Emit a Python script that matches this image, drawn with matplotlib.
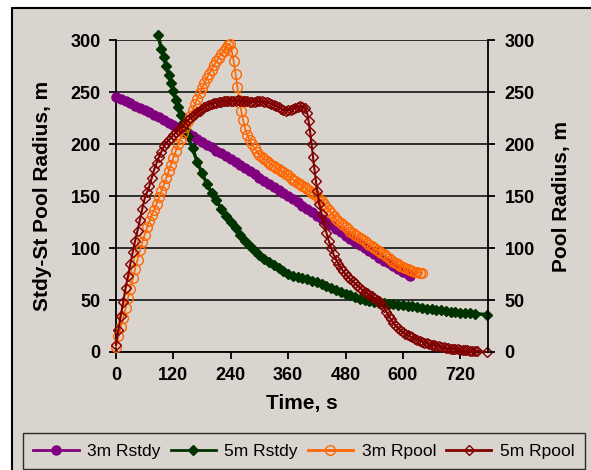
import matplotlib
matplotlib.use("Agg")
import matplotlib.pyplot as plt
from matplotlib.patches import Rectangle

plt.rcParams["font.family"] = ["Liberation Sans", "DejaVu Sans"]

# 3m Rstdy (purple, filled circles)
t_3m_rstdy = [0, 10, 20, 30, 40, 50, 60, 70, 80, 90, 100, 110, 120, 130, 140, 150, 160, 170, 180, 190,
              200, 210, 220, 230, 240, 250, 260, 270, 280, 290, 300, 310, 320, 330, 340, 350, 360, 370,
              380, 390, 400, 410, 420, 430, 440, 450, 460, 470, 480, 490, 500, 510, 520, 530, 540, 550,
              560, 570, 580, 590, 600, 610, 615]
r_3m_rstdy = [246, 244, 242, 239.5, 237, 235, 233, 231, 228.5, 226, 223.5, 221, 218.5, 216, 213, 210.5,
              208, 205, 202, 199.5, 197, 194, 191.5, 188.5, 186, 183, 180, 177, 174, 171, 168, 165, 162,
              159, 156, 153, 150, 147, 144, 141, 138, 134.5, 131, 128, 125, 122, 118.5, 115.5, 112, 109,
              106, 103, 100, 97, 94, 91, 88, 85.5, 83, 80, 77.5, 75, 73.5]

# 5m Rstdy (dark green, filled diamonds)
t_5m_rstdy = [88, 95, 100, 105, 110, 115, 120, 125, 130, 135, 140, 145, 150, 160, 170, 180, 190, 200,
              210, 220, 230, 240, 250, 260, 270, 280, 290, 300, 310, 320, 330, 340, 350, 360, 370, 380,
              390, 400, 410, 420, 430, 440, 450, 460, 470, 480, 490, 500, 510, 520, 530, 540, 550, 560,
              570, 580, 590, 600, 610, 620, 630, 640, 650, 660, 670, 680, 690, 700, 710, 720, 730, 740,
              750, 775]
r_5m_rstdy = [305, 292, 284, 275, 267, 259, 251, 243, 236, 228, 221, 214, 208, 196, 183, 172, 162, 153,
              146, 138, 131, 125, 119, 113, 107, 102, 97, 93, 90, 87, 84, 81, 78, 75, 73, 72, 71, 70,
              68.5, 67, 65.5, 64, 62, 60, 58, 56, 54.5, 53, 51.5, 50, 49, 48, 47.5, 47, 46.5, 46, 45.5,
              45, 44.5, 44, 43, 42, 41.5, 41, 40.5, 40, 39.5, 39, 38.5, 38, 37.5, 37.5, 37, 36]

# 3m Rpool (orange, open circles)
t_3m_rpool = [0, 5, 10, 15, 20, 25, 30, 35, 40, 45, 50, 55, 60, 65, 70, 75, 80, 85, 90, 95, 100, 105,
              110, 115, 120, 125, 130, 135, 140, 145, 150, 155, 160, 165, 170, 175, 180, 185, 190, 195,
              200, 205, 210, 215, 220, 225, 230, 235, 238, 242, 246, 250, 254, 258, 262, 266, 270, 275,
              280, 285, 290, 295, 300, 305, 310, 315, 320, 325, 330, 335, 340, 345, 350, 355, 360, 365,
              370, 375, 380, 385, 390, 395, 400, 405, 410, 415, 420, 425, 430, 435, 440, 445, 450, 455,
              460, 465, 470, 475, 480, 485, 490, 495, 500, 505, 510, 515, 520, 525, 530, 535, 540, 545,
              550, 555, 560, 565, 570, 575, 580, 585, 590, 595, 600, 605, 610, 615, 620, 625, 630, 635,
              640]
r_3m_rpool = [5, 15, 24, 33, 42, 52, 61, 71, 80, 89, 98, 106, 113, 120, 126, 132, 137, 143, 149, 155,
              161, 167.5, 174, 180.5, 187, 193.5, 200, 205.5, 211, 216.5, 222, 227.5, 233, 238.5, 244,
              249, 254, 259, 264, 268, 272, 276, 280, 283.5, 287, 290, 293, 296, 297, 290, 280, 268, 255,
              243, 232, 223, 215, 209, 204, 200, 196, 193, 190, 188, 186, 184, 182, 180.5, 179, 177.5,
              176, 174.5, 173, 171.5, 170, 168, 166, 164.5, 163, 161.5, 160, 158.5, 157, 155, 153.5, 152,
              150, 147.5, 145, 142.5, 140, 137, 134, 131, 128, 126, 124, 122, 120, 118, 116, 114.5, 113,
              111.5, 110, 108.5, 107, 105, 103.5, 102, 100, 98.5, 97, 95.5, 94, 92, 90.5, 89, 87, 85.5,
              84.5, 83, 82, 81, 80, 79, 78, 77.5, 77, 76.5, 76]

# 5m Rpool (dark red, open diamonds)
t_5m_rpool = [0, 5, 10, 15, 20, 25, 30, 35, 40, 45, 50, 55, 60, 65, 70, 75, 80, 85, 90, 95, 100, 105,
              110, 115, 120, 125, 130, 135, 140, 145, 150, 155, 160, 165, 170, 175, 180, 185, 190, 195,
              200, 205, 210, 215, 220, 225, 230, 235, 240, 245, 250, 255, 260, 265, 270, 275, 280, 285,
              290, 295, 300, 305, 310, 315, 320, 325, 330, 335, 340, 345, 350, 355, 360, 365, 370, 375,
              380, 385, 390, 395, 400, 403, 406, 409, 412, 415, 418, 421, 425, 430, 435, 440, 445, 450,
              455, 460, 465, 470, 475, 480, 485, 490, 495, 500, 505, 510, 515, 520, 525, 530, 535, 540,
              545, 550, 555, 560, 565, 570, 575, 580, 585, 590, 595, 600, 605, 610, 615, 620, 625, 630,
              635, 640, 645, 650, 655, 660, 665, 670, 675, 680, 685, 690, 695, 700, 705, 710, 715, 720,
              725, 730, 735, 740, 745, 750, 755, 775]
r_5m_rpool = [7, 21, 35, 48, 62, 73, 85, 96, 107, 117, 127, 138, 148, 154, 160, 168, 176, 182, 188, 193,
              198, 201, 204, 206.5, 209, 211.5, 214, 216, 218, 220.5, 223, 225, 227, 229, 231, 232.5, 234,
              235.5, 237, 238, 239, 239.5, 240, 240.5, 241, 241.5, 242, 242, 242, 242, 242, 242.5, 242,
              242, 242, 241.5, 241, 241, 241, 241.5, 242, 241.5, 241, 240.5, 240, 239, 238, 237, 236,
              234.5, 233, 232.5, 233, 233.5, 234, 235, 236, 236.5, 236, 235, 230, 222, 212, 200, 188,
              176, 165, 155, 143, 133, 123, 115, 107, 100, 94, 89, 85, 81, 78, 75, 72.5, 70, 68, 66, 64,
              62, 60, 58, 56.5, 55, 53.5, 52, 50.5, 49, 46.5, 43, 39, 35, 31.5, 28, 25.5, 23, 21, 19,
              17.5, 16, 15, 14, 13, 12, 11, 10, 9, 8.5, 7.5, 7, 6.5, 6, 5.5, 5, 4.5, 4, 3.5, 3, 3, 2.5,
              2.5, 2, 2, 1.5, 1.5, 1, 1, 1, 1, 0]

x_ticks = [0, 120, 240, 360, 480, 600, 720]
y_ticks = [0, 50, 100, 150, 200, 250, 300]

bg = "#dad4ce"
W, H = 591, 470

fig = plt.figure(figsize=(W / 100, H / 100), dpi=100)
fig.patch.set_facecolor("white")
fig.patches.append(Rectangle((12 / W, -0.02), 590 / W, 1.02 - 8 / H, transform=fig.transFigure,
                             facecolor=bg, edgecolor="black", linewidth=1.5, zorder=-10))

ax = fig.add_axes([116 / W, 1 - 352 / H, 372 / W, 311.5 / H])
ax.patch.set_alpha(0)

ax.plot(t_3m_rstdy, r_3m_rstdy, color="#800080", lw=3, marker="o", ms=6.5, mfc="#800080", mec="#800080",
        label="3m Rstdy", clip_on=False, zorder=3)
ax.plot(t_5m_rstdy, r_5m_rstdy, color="#003300", lw=2.5, marker="D", ms=5, mfc="#003300", mec="#003300",
        label="5m Rstdy", clip_on=False, zorder=3)
ax.plot(t_3m_rpool, r_3m_rpool, color="#ff6600", lw=1.2, marker="o", ms=7, mfc="none", mec="#ff6600",
        mew=1.0, label="3m Rpool", clip_on=False, zorder=4)
ax.plot(t_5m_rpool, r_5m_rpool, color="#800000", lw=1.5, marker="D", ms=5.5, mfc="none", mec="#800000",
        mew=1.0, label="5m Rpool", clip_on=False, zorder=5)

ax.set_xlim(0, 778)
ax.set_ylim(0, 300)
ax.set_xticks(x_ticks)
ax.set_yticks(y_ticks)
ax.yaxis.grid(True, color="#222222", lw=1.3)
ax.set_axisbelow(True)
for s in ["top", "right"]:
    ax.spines[s].set_visible(False)
for s in ["left", "bottom"]:
    ax.spines[s].set_linewidth(1.3)
ax.tick_params(direction="out", length=5, width=1.3, labelsize=13, pad=6)
for lbl in ax.get_xticklabels() + ax.get_yticklabels():
    lbl.set_fontweight("bold")
ax.set_xlabel("Time, s", fontsize=15, fontweight="bold")
ax.set_ylabel("Stdy-St Pool Radius, m", fontsize=15, fontweight="bold")
ax.xaxis.set_label_coords(0.5, -0.135)
ax.yaxis.set_label_coords(-0.172, 0.5)

ax2 = ax.twinx()
ax2.set_ylim(0, 300)
ax2.set_yticks(y_ticks)
for s in ["top", "left", "bottom"]:
    ax2.spines[s].set_visible(False)
ax2.spines["right"].set_linewidth(1.3)
ax2.tick_params(direction="out", length=5, width=1.3, labelsize=13, pad=7)
for lbl in ax2.get_yticklabels():
    lbl.set_fontweight("bold")
ax2.set_ylabel("Pool Radius, m", fontsize=15, fontweight="bold", rotation=90)
ax2.yaxis.set_label_coords(1.172, 0.5)

leg = fig.legend(*ax.get_legend_handles_labels(), loc="center", ncol=4, mode="expand",
                 bbox_to_anchor=(23 / W, 2 / H, 562 / W, 34 / H), fontsize=12.5, frameon=True,
                 fancybox=False, edgecolor="black", facecolor=bg, handlelength=2.6, handletextpad=0.5,
                 borderpad=0.6, borderaxespad=0)
leg.get_frame().set_linewidth(1.0)
for h in leg.legend_handles:
    h.set_linewidth(2)

fig.savefig("out.png", dpi=100, facecolor="white")
